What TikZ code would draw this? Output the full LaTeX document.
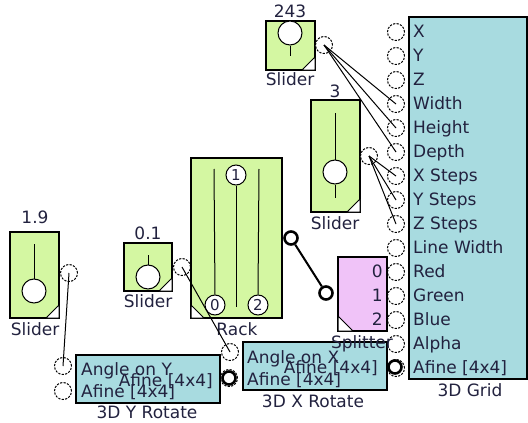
\documentclass[tikz,border=0pt]{standalone}
\usepackage{fontspec}
\setmainfont{DejaVu Sans}
\definecolor{sliderfill}{HTML}{D4F7A2}
\definecolor{blockfill}{HTML}{A8DBE0}
\definecolor{splitfill}{HTML}{F0C3F8}
\definecolor{labeltext}{HTML}{22223F}
\begin{document}
\begin{tikzpicture}[x=1pt,y=-1pt,
  every node/.style={font=\fontsize{17}{19}\selectfont,text=labeltext,inner sep=0pt},
  box/.style={draw,line width=1.2pt},
  inport/.style={circle,draw,fill=white,line width=1pt,dash pattern=on 2.2pt off 1.3pt,minimum size=17pt},
  outport/.style={circle,draw,fill=white,line width=2.6pt,minimum size=13pt},
  knob/.style={circle,draw,fill=white,line width=1pt,minimum size=24pt},
  rackport/.style={circle,draw,fill=white,line width=1pt,minimum size=20pt,font=\fontsize{15}{17}\selectfont},
  wire/.style={line width=1pt},
  corner/.style={draw,fill=white,line width=1pt}]
\useasboundingbox (0,0) rectangle (528,423);

% 3D Grid
\draw[box,fill=blockfill] (409,17) rectangle (527,379);
\foreach \lab [count=\i] in {X,Y,Z,Width,Height,Depth,X Steps,Y Steps,Z Steps,Line Width,Red,Green,Blue,Alpha,Afine [4x4]} {
  \node[inport] (grid\i) at (396,8+24*\i) {};
  \node[anchor=base west] (gridlab\i) at (413,13.5+24*\i) {\lab};
}
\node[anchor=base] (gridname) at (470,396) {3D Grid};

% slider 243
\draw[box,fill=sliderfill] (266,21) rectangle (315,70);
\node[knob] (knobA) at (290,33) {};
\draw[wire] (knobA.south) -- (290,56);
\draw[corner] (302,70) -- (315,57) -- (315,70) -- cycle;
\node[anchor=base] (valA) at (290,17) {243};
\node[anchor=base] (nameA) at (290,85) {Slider};
\node[inport] (outA) at (324,45) {};

% slider 3
\draw[box,fill=sliderfill] (311,100) rectangle (360,212);
\node[knob] (knobB) at (335,172) {};
\draw[wire] (335,113) -- (knobB.north);
\draw[wire] (knobB.south) -- (335,198);
\draw[corner] (347,212) -- (360,199) -- (360,212) -- cycle;
\node[anchor=base] (valB) at (335,97) {3};
\node[anchor=base] (nameB) at (335,229) {Slider};
\node[inport] (outB) at (369,156) {};

% slider 1.9
\draw[box,fill=sliderfill] (10,232) rectangle (59,318);
\node[knob] (knobC) at (34,291) {};
\draw[wire] (34,244) -- (knobC.north);
\draw[corner] (46,318) -- (59,305) -- (59,318) -- cycle;
\node[anchor=base] (valC) at (35,223) {1.9};
\node[anchor=base] (nameC) at (35,335) {Slider};
\node[inport] (outC) at (69,273) {};

% slider 0.1
\draw[box,fill=sliderfill] (124,243) rectangle (172,291);
\node[knob] (knobD) at (148,277) {};
\draw[wire] (148,255) -- (knobD.north);
\draw[corner] (159,291) -- (172,278) -- (172,291) -- cycle;
\node[anchor=base] (valD) at (148,239) {0.1};
\node[anchor=base] (nameD) at (148,307) {Slider};
\node[inport] (outD) at (182,267) {};

% rack
\draw[box,fill=sliderfill] (191,158) rectangle (282,318);
\draw[corner] (191,305) -- (204,318) -- (191,318) -- cycle;
\node[rackport] (rack0) at (215,305) {0};
\node[rackport] (rack1) at (236,175) {1};
\node[rackport] (rack2) at (258,305) {2};
\draw[wire] (214,169) -- (rack0.north);
\draw[wire] (rack1.south) -- (236,307);
\draw[wire] (259,169) -- (rack2.north);
\node[anchor=base] (rackname) at (237,335) {Rack};
\node[outport] (rackout) at (291,238) {};

% splitter
\draw[box,fill=splitfill] (338,257) rectangle (387,331);
\draw[corner] (338,316) -- (353,331) -- (338,331) -- cycle;
\foreach \k in {0,1,2}
  \node[anchor=base east] (split\k) at (383,277.5+24*\k) {\k};
\node[outport] (splitin) at (326,293) {};

% 3D X Rotate
\draw[box,fill=blockfill] (243,342) rectangle (387,390);
\node[anchor=base west] (xlabA) at (247,363) {Angle on X};
\node[anchor=base west] (xlabB) at (247,385) {Afine [4x4]};
\node[anchor=base east] (xlabC) at (378,373) {Afine [4x4]};
\node[anchor=base] (xname) at (313,407) {3D X Rotate};
\node[anchor=base] (splitname) at (362,348) {Splitter};
\node[inport] (xangle) at (230,352) {};
\node[inport] (xafine) at (229,378) {};
\node[outport] (xout) at (395,367) {};

% 3D Y Rotate
\draw[box,fill=blockfill] (76,355) rectangle (220,403);
\node[anchor=base west] (ylabA) at (81,375) {Angle on Y};
\node[anchor=base west] (ylabB) at (81,397) {Afine [4x4]};
\node[anchor=base east] (ylabC) at (213,386) {Afine [4x4]};
\node[anchor=base] (yname) at (147,418) {3D Y Rotate};
\node[inport] (yangle) at (63,366) {};
\node[inport] (yafine) at (63,391) {};
\node[outport] (yout) at (229,378) {};

% wires
\foreach \g in {4,5,6}
  \draw[wire] (outA.center) -- (grid\g.center);
\foreach \g in {7,8,9}
  \draw[wire] (outB.center) -- (grid\g.center);
\draw[wire] (outC.center) -- (yangle.center);
\draw[wire] (outD.center) -- (xangle.center);
\draw[line width=2pt] (rackout) -- (splitin);
\end{tikzpicture}
\end{document}
